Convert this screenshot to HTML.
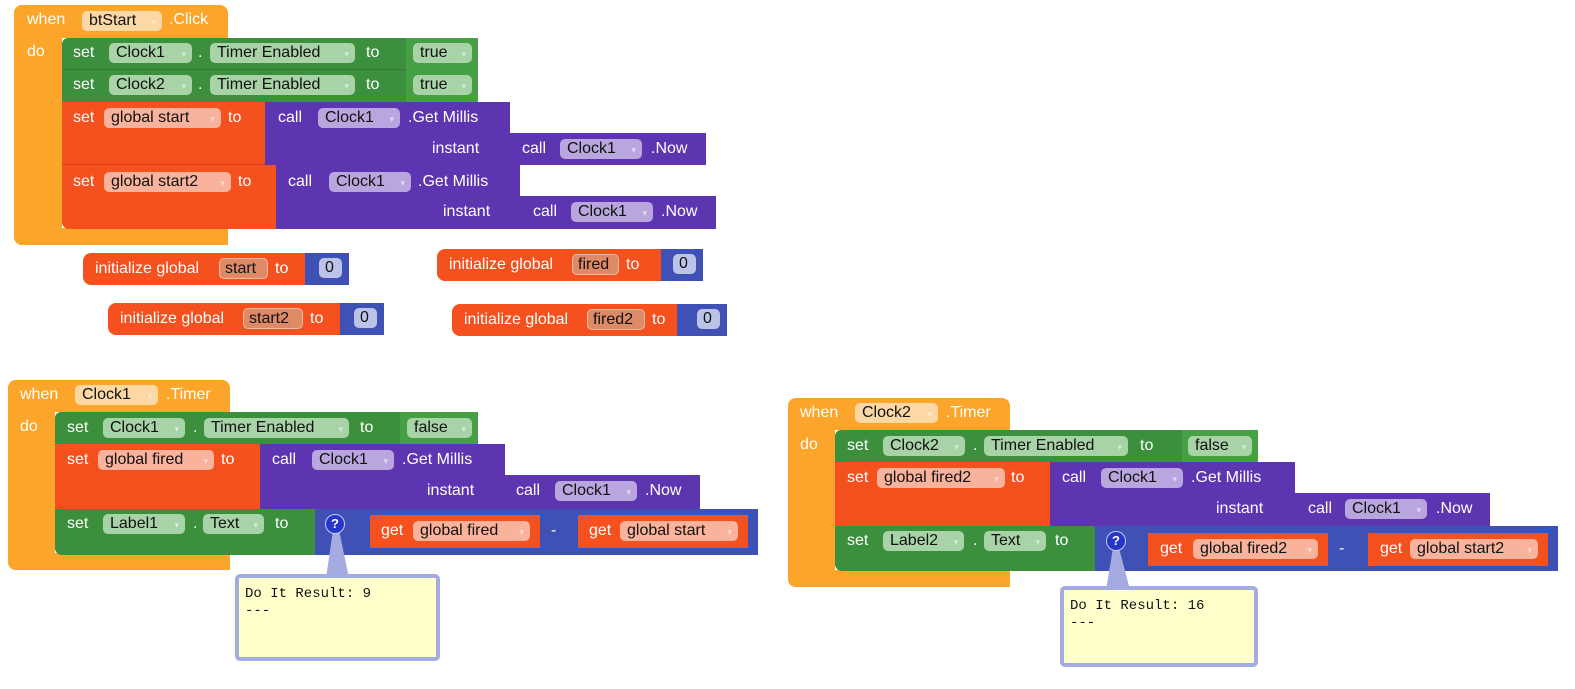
<!DOCTYPE html>
<html><head><meta charset="utf-8"><style>
body{margin:0;width:1575px;height:689px;background:#fff;position:relative;overflow:hidden;font-family:"Liberation Sans",Arial,sans-serif}
div,span{position:absolute;box-sizing:border-box}
.t{color:#fff;font-size:16px;line-height:18px;white-space:nowrap}
.p{height:20px;border-radius:5px;font-size:16px;line-height:20px;padding-left:7px;color:#111;white-space:nowrap}
.p i{font-style:normal;font-size:9px;position:absolute;right:6px;top:1px;opacity:.55;color:#fff}
.O{background:#FBA52A}.G{background:#3C8F3C}.R{background:#F4511E}.P{background:#5E35B1}.B{background:#3F51B5}
.po{background:#FDD8A5}.pg{background:#A7D3A7}.pr{background:#F9B29B}.pp{background:#B9A6DF}
.pi{background:#DE8A66;border:1px solid #F8B8A0;padding-left:5px;height:21px}
.pz{background:#BCC3E8;padding-left:6px}
.q{width:20px;height:20px;border-radius:50%;background:#2536C9;border:1.5px solid #C8CCF0;color:#fff;font-size:13px;font-weight:bold;line-height:17px;text-align:center}
.c{background:#FFFFCC;border:4px solid #A4ABE0;border-radius:5px;font-family:"Liberation Mono",monospace;font-size:14px;line-height:17px;color:#111;padding:8px 6px}
</style></head><body>

<!-- Block 1 -->
<div class="O" style="left:14px;top:5px;width:214px;height:33px;border-radius:8px 8px 0 0"></div>
<div class="O" style="left:14px;top:5px;width:48px;height:240px;border-radius:8px 0 0 8px"></div>
<div class="O" style="left:14px;top:228px;width:214px;height:17px;border-radius:0 0 0 8px"></div>
<span class="t" style="left:27px;top:11px">when</span>
<div class="p po" style="left:82px;top:11px;width:80px">btStart<i>▾</i></div>
<span class="t" style="left:169px;top:11px">.Click</span>
<span class="t" style="left:27px;top:43px">do</span>

<div class="G" style="left:62px;top:38px;width:344px;height:32px;border-radius:6px 0 0 0;border-bottom:1px solid #2f7a2f"></div>
<div class="G" style="left:406px;top:38px;width:72px;height:32px;background:#45A045"></div>
<span class="t" style="left:73px;top:44px">set</span>
<div class="p pg" style="left:109px;top:43px;width:83px">Clock1<i>▾</i></div>
<span class="t" style="left:198px;top:44px">.</span>
<div class="p pg" style="left:210px;top:43px;width:145px">Timer Enabled<i>▾</i></div>
<span class="t" style="left:366px;top:44px">to</span>
<div class="p pg" style="left:413px;top:43px;width:59px">true<i>▾</i></div>

<div class="G" style="left:62px;top:70px;width:344px;height:32px"></div>
<div class="G" style="left:406px;top:70px;width:72px;height:32px;background:#45A045"></div>
<span class="t" style="left:73px;top:76px">set</span>
<div class="p pg" style="left:109px;top:75px;width:83px">Clock2<i>▾</i></div>
<span class="t" style="left:198px;top:76px">.</span>
<div class="p pg" style="left:210px;top:75px;width:145px">Timer Enabled<i>▾</i></div>
<span class="t" style="left:366px;top:76px">to</span>
<div class="p pg" style="left:413px;top:75px;width:59px">true<i>▾</i></div>

<div class="R" style="left:62px;top:102px;width:203px;height:63px;border-bottom:1px solid #d84010"></div>
<span class="t" style="left:73px;top:109px">set</span>
<div class="p pr" style="left:104px;top:108px;width:117px">global start<i>▾</i></div>
<span class="t" style="left:228px;top:109px">to</span>
<div class="P" style="left:265px;top:102px;width:245px;height:63px"></div>
<div class="P" style="left:510px;top:133px;width:196px;height:32px"></div>
<span class="t" style="left:278px;top:109px">call</span>
<div class="p pp" style="left:318px;top:108px;width:82px">Clock1<i>▾</i></div>
<span class="t" style="left:408px;top:109px">.Get Millis</span>
<span class="t" style="left:432px;top:140px">instant</span>
<span class="t" style="left:522px;top:140px">call</span>
<div class="p pp" style="left:560px;top:139px;width:82px">Clock1<i>▾</i></div>
<span class="t" style="left:651px;top:140px">.Now</span>

<div class="R" style="left:62px;top:165px;width:214px;height:64px;border-radius:0 0 0 7px"></div>
<span class="t" style="left:73px;top:173px">set</span>
<div class="p pr" style="left:104px;top:172px;width:127px">global start2<i>▾</i></div>
<span class="t" style="left:238px;top:173px">to</span>
<div class="P" style="left:276px;top:165px;width:244px;height:64px"></div>
<div class="P" style="left:520px;top:196px;width:196px;height:33px"></div>
<span class="t" style="left:288px;top:173px">call</span>
<div class="p pp" style="left:329px;top:172px;width:82px">Clock1<i>▾</i></div>
<span class="t" style="left:418px;top:173px">.Get Millis</span>
<span class="t" style="left:443px;top:203px">instant</span>
<span class="t" style="left:533px;top:203px">call</span>
<div class="p pp" style="left:571px;top:202px;width:82px">Clock1<i>▾</i></div>
<span class="t" style="left:661px;top:203px">.Now</span>

<!-- init blocks -->
<div class="R" style="left:83px;top:253px;width:222px;height:32px;border-radius:8px 0 0 8px"></div>
<div class="B" style="left:305px;top:253px;width:44px;height:32px"></div>
<span class="t" style="left:95px;top:260px">initialize global</span>
<div class="p pi" style="left:219px;top:258px;width:49px">start</div>
<span class="t" style="left:275px;top:260px">to</span>
<div class="p pz" style="left:319px;top:258px;width:23px">0</div>

<div class="R" style="left:108px;top:303px;width:232px;height:32px;border-radius:8px 0 0 8px"></div>
<div class="B" style="left:340px;top:303px;width:44px;height:32px"></div>
<span class="t" style="left:120px;top:310px">initialize global</span>
<div class="p pi" style="left:243px;top:308px;width:60px">start2</div>
<span class="t" style="left:310px;top:310px">to</span>
<div class="p pz" style="left:354px;top:308px;width:23px">0</div>

<div class="R" style="left:437px;top:249px;width:224px;height:32px;border-radius:8px 0 0 8px"></div>
<div class="B" style="left:661px;top:249px;width:42px;height:32px"></div>
<span class="t" style="left:449px;top:256px">initialize global</span>
<div class="p pi" style="left:572px;top:254px;width:47px">fired</div>
<span class="t" style="left:626px;top:256px">to</span>
<div class="p pz" style="left:673px;top:254px;width:23px">0</div>

<div class="R" style="left:452px;top:304px;width:225px;height:32px;border-radius:8px 0 0 8px"></div>
<div class="B" style="left:677px;top:304px;width:50px;height:32px"></div>
<span class="t" style="left:464px;top:311px">initialize global</span>
<div class="p pi" style="left:587px;top:309px;width:58px">fired2</div>
<span class="t" style="left:652px;top:311px">to</span>
<div class="p pz" style="left:697px;top:309px;width:23px">0</div>

<!-- Block 2 -->
<div class="O" style="left:8px;top:380px;width:222px;height:32px;border-radius:8px 8px 0 0"></div>
<div class="O" style="left:8px;top:380px;width:47px;height:190px;border-radius:8px 0 0 8px"></div>
<div class="O" style="left:8px;top:553px;width:222px;height:17px;border-radius:0 0 0 8px"></div>
<span class="t" style="left:20px;top:386px">when</span>
<div class="p po" style="left:75px;top:385px;width:83px">Clock1<i>▾</i></div>
<span class="t" style="left:166px;top:386px">.Timer</span>
<span class="t" style="left:20px;top:418px">do</span>

<div class="G" style="left:55px;top:412px;width:345px;height:32px;border-radius:6px 0 0 0"></div>
<div class="G" style="left:400px;top:412px;width:78px;height:32px;background:#45A045"></div>
<span class="t" style="left:67px;top:419px">set</span>
<div class="p pg" style="left:103px;top:418px;width:82px">Clock1<i>▾</i></div>
<span class="t" style="left:193px;top:419px">.</span>
<div class="p pg" style="left:204px;top:418px;width:145px">Timer Enabled<i>▾</i></div>
<span class="t" style="left:360px;top:419px">to</span>
<div class="p pg" style="left:407px;top:418px;width:65px">false<i>▾</i></div>

<div class="R" style="left:55px;top:444px;width:205px;height:65px"></div>
<span class="t" style="left:67px;top:451px">set</span>
<div class="p pr" style="left:98px;top:450px;width:116px">global fired<i>▾</i></div>
<span class="t" style="left:221px;top:451px">to</span>
<div class="P" style="left:260px;top:444px;width:245px;height:65px"></div>
<div class="P" style="left:505px;top:475px;width:195px;height:34px"></div>
<span class="t" style="left:272px;top:451px">call</span>
<div class="p pp" style="left:312px;top:450px;width:82px">Clock1<i>▾</i></div>
<span class="t" style="left:402px;top:451px">.Get Millis</span>
<span class="t" style="left:427px;top:482px">instant</span>
<span class="t" style="left:516px;top:482px">call</span>
<div class="p pp" style="left:555px;top:481px;width:82px">Clock1<i>▾</i></div>
<span class="t" style="left:645px;top:482px">.Now</span>

<div class="G" style="left:55px;top:509px;width:260px;height:46px;border-radius:0 0 0 7px"></div>
<span class="t" style="left:67px;top:515px">set</span>
<div class="p pg" style="left:103px;top:514px;width:82px">Label1<i>▾</i></div>
<span class="t" style="left:193px;top:515px">.</span>
<div class="p pg" style="left:203px;top:514px;width:61px">Text<i>▾</i></div>
<span class="t" style="left:275px;top:515px">to</span>
<div class="B" style="left:315px;top:509px;width:443px;height:46px"></div>
<div class="R" style="left:370px;top:515px;width:170px;height:33px"></div>
<span class="t" style="left:381px;top:522px">get</span>
<div class="p pr" style="left:413px;top:521px;width:117px">global fired<i>▾</i></div>
<span class="t" style="left:551px;top:522px">-</span>
<div class="R" style="left:578px;top:515px;width:170px;height:33px"></div>
<span class="t" style="left:589px;top:522px">get</span>
<div class="p pr" style="left:620px;top:521px;width:118px">global start<i>▾</i></div>

<!-- Block 3 -->
<div class="O" style="left:788px;top:398px;width:222px;height:32px;border-radius:8px 8px 0 0"></div>
<div class="O" style="left:788px;top:398px;width:47px;height:189px;border-radius:8px 0 0 8px"></div>
<div class="O" style="left:788px;top:570px;width:222px;height:17px;border-radius:0 0 0 8px"></div>
<span class="t" style="left:800px;top:404px">when</span>
<div class="p po" style="left:855px;top:403px;width:83px">Clock2<i>▾</i></div>
<span class="t" style="left:946px;top:404px">.Timer</span>
<span class="t" style="left:800px;top:436px">do</span>

<div class="G" style="left:835px;top:430px;width:347px;height:32px;border-radius:6px 0 0 0"></div>
<div class="G" style="left:1182px;top:430px;width:76px;height:32px;background:#45A045"></div>
<span class="t" style="left:847px;top:437px">set</span>
<div class="p pg" style="left:883px;top:436px;width:82px">Clock2<i>▾</i></div>
<span class="t" style="left:973px;top:437px">.</span>
<div class="p pg" style="left:984px;top:436px;width:144px">Timer Enabled<i>▾</i></div>
<span class="t" style="left:1140px;top:437px">to</span>
<div class="p pg" style="left:1188px;top:436px;width:64px">false<i>▾</i></div>

<div class="R" style="left:835px;top:462px;width:215px;height:64px"></div>
<span class="t" style="left:847px;top:469px">set</span>
<div class="p pr" style="left:877px;top:468px;width:128px">global fired2<i>▾</i></div>
<span class="t" style="left:1011px;top:469px">to</span>
<div class="P" style="left:1050px;top:462px;width:245px;height:64px"></div>
<div class="P" style="left:1295px;top:493px;width:195px;height:33px"></div>
<span class="t" style="left:1062px;top:469px">call</span>
<div class="p pp" style="left:1101px;top:468px;width:82px">Clock1<i>▾</i></div>
<span class="t" style="left:1191px;top:469px">.Get Millis</span>
<span class="t" style="left:1216px;top:500px">instant</span>
<span class="t" style="left:1308px;top:500px">call</span>
<div class="p pp" style="left:1345px;top:499px;width:82px">Clock1<i>▾</i></div>
<span class="t" style="left:1436px;top:500px">.Now</span>

<div class="G" style="left:835px;top:526px;width:260px;height:45px;border-radius:0 0 0 7px"></div>
<span class="t" style="left:847px;top:532px">set</span>
<div class="p pg" style="left:883px;top:531px;width:81px">Label2<i>▾</i></div>
<span class="t" style="left:973px;top:532px">.</span>
<div class="p pg" style="left:984px;top:531px;width:62px">Text<i>▾</i></div>
<span class="t" style="left:1055px;top:532px">to</span>
<div class="B" style="left:1095px;top:526px;width:463px;height:45px"></div>
<div class="R" style="left:1148px;top:533px;width:180px;height:33px"></div>
<span class="t" style="left:1160px;top:540px">get</span>
<div class="p pr" style="left:1193px;top:539px;width:125px">global fired2<i>▾</i></div>
<span class="t" style="left:1339px;top:540px">-</span>
<div class="R" style="left:1368px;top:533px;width:180px;height:33px"></div>
<span class="t" style="left:1380px;top:540px">get</span>
<div class="p pr" style="left:1410px;top:539px;width:128px">global start2<i>▾</i></div>

<svg style="position:absolute;left:0;top:0" width="1575" height="689"><polygon points="333,530 339,530 349,578 326,578" fill="#A4ABE0"/><polygon points="1113,548 1119,548 1130,590 1106,590" fill="#A4ABE0"/></svg>
<div class="q" style="left:325px;top:514px">?</div>
<div class="q" style="left:1106px;top:531px">?</div>
<div class="c" style="left:235px;top:574px;width:205px;height:87px">Do It Result: 9<br>---</div>
<div class="c" style="left:1060px;top:586px;width:198px;height:81px">Do It Result: 16<br>---</div>

</body></html>
